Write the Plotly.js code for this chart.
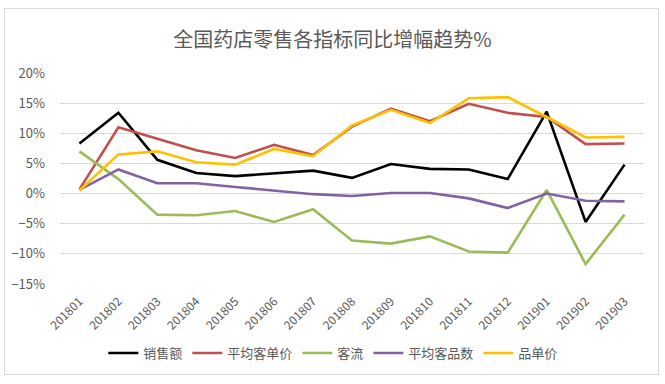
<!DOCTYPE html>
<html>
<head>
<meta charset="utf-8">
<script src="https://cdn.plot.ly/plotly-3.0.1.min.js"></script>
<style>
html,body{margin:0;padding:0;background:#fff;}
#frame{position:absolute;left:4px;top:8px;width:655px;height:367px;border:1px solid #d9d9d9;box-sizing:border-box;}
#chart{position:absolute;left:0;top:0;width:665px;height:384px;}
</style>
</head>
<body>
<div id="frame"></div>
<div id="chart"></div>
<script>
var months = ['201801','201802','201803','201804','201805','201806','201807','201808','201809','201810','201811','201812','201901','201902','201903'];
var sales    = [8.3, 13.4, 5.6, 3.4, 2.9, 3.4, 3.8, 2.6, 4.9, 4.1, 4.0, 2.4, 13.6, -4.7, 4.8];
var avgPrice = [0.7, 11.0, 9.1, 7.2, 5.9, 8.1, 6.4, 11.1, 14.1, 12.0, 14.9, 13.4, 12.7, 8.2, 8.3];
var traffic  = [7.0, 2.4, -3.5, -3.6, -2.9, -4.7, -2.6, -7.8, -8.3, -7.1, -9.6, -9.8, 0.6, -11.7, -3.5];
var avgItems = [0.6, 4.0, 1.7, 1.7, 1.1, 0.45, -0.1, -0.4, 0.1, 0.1, -0.8, -2.4, 0.0, -1.2, -1.3];
var itemPrice= [0.5, 6.5, 7.0, 5.2, 4.8, 7.4, 6.2, 11.3, 13.9, 11.7, 15.8, 16.0, 12.7, 9.3, 9.4];

var names  = ['销售额','平均客单价','客流','平均客品数','品单价'];
var colors = ['#000000','#c0504d','#9bbb59','#8064a2','#ffc000'];
var series = [sales, avgPrice, traffic, avgItems, itemPrice];

var font = '"Noto Sans CJK SC", "Microsoft YaHei", sans-serif';
var traces = series.map(function(s, i){
  return {
    type:'scatter', mode:'lines', name:names[i], x:months,
    y:s.map(function(v){return v/100;}),
    line:{color:colors[i], width:2.6}
  };
});

var layout = {
  width:665, height:384,
  paper_bgcolor:'rgba(0,0,0,0)', plot_bgcolor:'rgba(0,0,0,0)',
  margin:{l:60, r:21, t:73, b:100},
  font:{family:font, color:'#595959', size:12},
  title:{text:'全国药店零售各指标同比增幅趋势%', font:{family:font, size:20, color:'#595959'}, x:0.5, xanchor:'center', y:0.897, yanchor:'middle'},
  xaxis:{type:'category', range:[-0.5,14.5], tickangle:-45, showgrid:false, zeroline:false, showline:false, ticks:'',
         tickfont:{size:12, color:'#595959'}, ticklabelstandoff:7, fixedrange:true},
  yaxis:{range:[-0.15,0.2], dtick:0.05, tick0:0, tickformat:'.0%', showgrid:true, gridcolor:'#d9d9d9', gridwidth:1,
         zeroline:false, showline:false, ticks:'', tickfont:{size:13, color:'#595959'}, ticklabelstandoff:14},
  showlegend:true,
  legend:{orientation:'h', x:0.468, xanchor:'center', y:-0.327, yanchor:'middle', font:{size:13, color:'#595959'}, itemwidth:30}
};
Plotly.newPlot('chart', traces, layout, {displayModeBar:false, staticPlot:true});
</script>
</body>
</html>
